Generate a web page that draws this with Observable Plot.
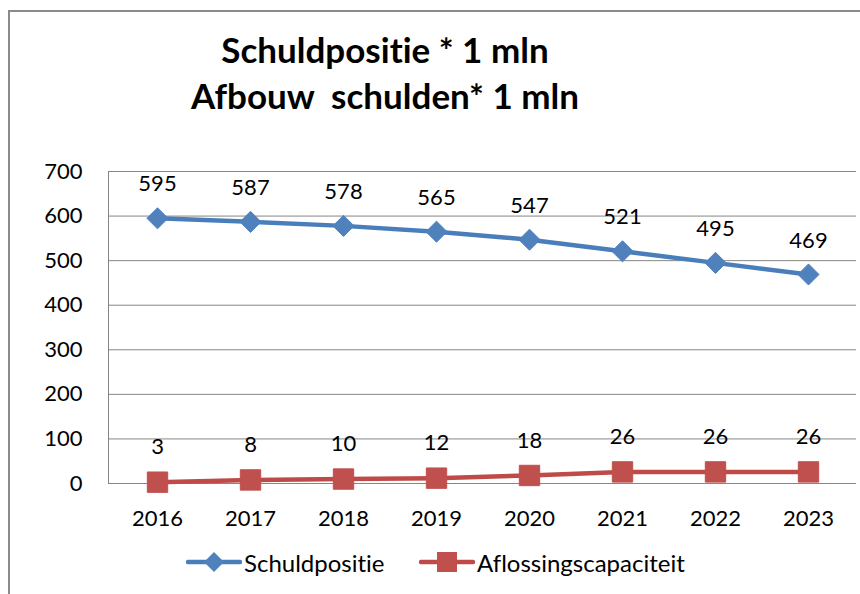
<!DOCTYPE html>
<html>
<head>
<meta charset="utf-8">
<script src="https://cdn.jsdelivr.net/npm/d3@7"></script>
<script src="https://cdn.jsdelivr.net/npm/@observablehq/plot@0.6"></script>
<style>
  html, body { margin: 0; padding: 0; background: #fff; }
  #wrap { position: relative; width: 860px; height: 594px; overflow: hidden; font-family: Lato, "Open Sans", sans-serif; font-variant-ligatures: none; font-feature-settings: "liga" 0, "clig" 0; }
  #border { position: absolute; left: 8px; top: 10px; width: 900px; height: 700px; border: 2px solid #8a8a8a; box-sizing: border-box; }
  #title { position: absolute; left: 0; top: 26px; width: 770px; text-align: center; font-weight: bold; font-size: 35px; line-height: 46px; color: #000; }
  #chart { position: absolute; left: 0; top: 140px; }
  #chart svg text { font-variant-ligatures: none; }
  #legend { position: absolute; left: 0; top: 546px; width: 860px; height: 32px; }
  .li { position: absolute; top: 0; display: flex; align-items: center; height: 32px; font-size: 24px; color: #000; }
</style>
</head>
<body>
<div id="wrap">
  <div id="border"></div>
  <div id="title">Schuldpositie * 1 mln<br>Afbouw&nbsp; schulden* 1 mln</div>
  <div id="chart"></div>
  <div id="legend"></div>
</div>
<script>
const years = ["2016","2017","2018","2019","2020","2021","2022","2023"];
const schuldpositie = [595, 587, 578, 565, 547, 521, 495, 469];
const aflossingscapaciteit = [3, 8, 10, 12, 18, 26, 26, 26];
const yTicks = [0, 100, 200, 300, 400, 500, 600, 700];
const seriesNames = ["Schuldpositie", "Aflossingscapaciteit"];
const colors = {line1: "#4A7EBB", marker1: "#4F81BD", line2: "#BE4B48", marker2: "#C0504D"};

const s1 = years.map((y, i) => ({year: y, value: schuldpositie[i]}));
const s2 = years.map((y, i) => ({year: y, value: aflossingscapaciteit[i]}));

const font = "Lato, 'Open Sans', sans-serif";
const chart = Plot.plot({
  width: 860,
  height: 400,
  marginLeft: 108,
  marginRight: 4,
  marginTop: 31,
  marginBottom: 57,
  style: {fontFamily: font, fontSize: "22px", color: "#000", background: "transparent"},
  x: {type: "point", domain: years, padding: 0.5, label: null},
  y: {domain: [0, 700], ticks: yTicks, label: null},
  marks: [
    Plot.gridY(yTicks, {stroke: "#868686", strokeOpacity: 1, strokeWidth: 1}),
    Plot.frame({anchor: "left", stroke: "#868686", strokeWidth: 1}),
    Plot.axisY(yTicks, {tickSize: 0, tickPadding: 26, fontSize: 22, fill: "#000", label: null}),
    Plot.axisX(years, {tickSize: 0, tickPadding: 27, fontSize: 22, fill: "#000", label: null}),
    Plot.line(s1, {x: "year", y: "value", stroke: colors.line1, strokeWidth: 4.5}),
    Plot.line(s2, {x: "year", y: "value", stroke: colors.line2, strokeWidth: 4.5}),
    Plot.dot(s1, {x: "year", y: "value", symbol: "diamond2", r: 9.5, fill: colors.marker1, stroke: colors.marker1, strokeWidth: 1}),
    Plot.dot(s2, {x: "year", y: "value", symbol: "square", r: 11.5, fill: colors.marker2, stroke: colors.marker2, strokeWidth: 1}),
    Plot.text(s1, {x: "year", y: "value", text: d => String(d.value), dy: -34, fontSize: 22, fill: "#000"}),
    Plot.text(s2, {x: "year", y: "value", text: d => String(d.value), dy: -35, fontSize: 22, fill: "#000"})
  ]
});
document.getElementById("chart").appendChild(chart);

// legend
const legend = document.getElementById("legend");
const items = [
  {name: seriesNames[0], left: 186, line: colors.line1, marker: colors.marker1, shape: "diamond"},
  {name: seriesNames[1], left: 419, line: colors.line2, marker: colors.marker2, shape: "square"}
];
for (const it of items) {
  const div = document.createElement("div");
  div.className = "li";
  div.style.left = it.left + "px";
  const ns = "http://www.w3.org/2000/svg";
  const svg = document.createElementNS(ns, "svg");
  svg.setAttribute("width", 56); svg.setAttribute("height", 32);
  const ln = document.createElementNS(ns, "line");
  ln.setAttribute("x1", 2); ln.setAttribute("x2", 54); ln.setAttribute("y1", 16); ln.setAttribute("y2", 16);
  ln.setAttribute("stroke", it.line); ln.setAttribute("stroke-width", 4.5); ln.setAttribute("stroke-linecap", "round");
  svg.appendChild(ln);
  if (it.shape === "diamond") {
    const p = document.createElementNS(ns, "path");
    p.setAttribute("d", "M28,6 L38,16 L28,26 L18,16 Z");
    p.setAttribute("fill", it.marker);
    svg.appendChild(p);
  } else {
    const r = document.createElementNS(ns, "rect");
    r.setAttribute("x", 18); r.setAttribute("y", 6); r.setAttribute("width", 20); r.setAttribute("height", 20);
    r.setAttribute("fill", it.marker);
    svg.appendChild(r);
  }
  div.appendChild(svg);
  const t = document.createElement("span");
  t.textContent = it.name;
  t.style.marginLeft = "2px";
  div.appendChild(t);
  legend.appendChild(div);
}
</script>
</body>
</html>
